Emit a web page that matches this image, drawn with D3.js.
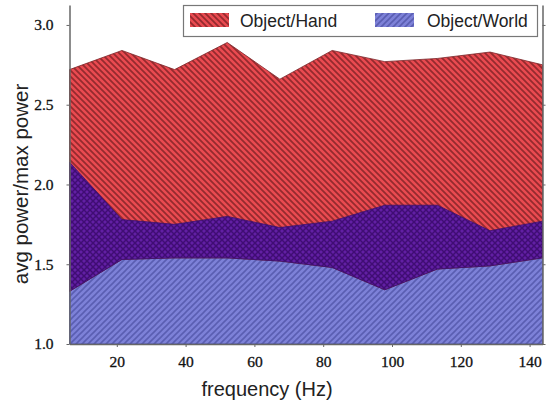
<!DOCTYPE html>
<html><head><meta charset="utf-8">
<script src="https://cdn.jsdelivr.net/npm/d3@7"></script>
<style>body{margin:0;background:#fff}svg{display:block}</style>
</head><body>
<svg id="c" width="546" height="407"></svg>
<script>
const freq = [6.25, 21.5, 36.8, 52.1, 67.4, 82.6, 97.9, 113.2, 128.5, 143.75];
const handHigh = [2.72, 2.84, 2.72, 2.89, 2.66, 2.84, 2.77, 2.79, 2.83, 2.75];
const handLow  = [1.33, 1.53, 1.54, 1.54, 1.52, 1.48, 1.34, 1.47, 1.49, 1.54];
const worldHigh = [2.14, 1.78, 1.75, 1.80, 1.73, 1.77, 1.87, 1.87, 1.71, 1.77];
const xTicks = [20, 40, 60, 80, 100, 120, 140];
const yTicks = [1.0, 1.5, 2.0, 2.5, 3.0];
const seriesNames = ["Object/Hand", "Object/World"];

const svg = d3.select("#c");
const x = d3.scaleLinear().domain([6.25, 143.75]).range([69.5, 542.5]);
const y = d3.scaleLinear().domain([1, 3.125]).range([344, 5]);
const base = y.domain()[0];

const defs = svg.append("defs");
function hatch(id, bg, col, dirs, sw) {
  const p = defs.append("pattern").attr("id", id).attr("patternUnits", "userSpaceOnUse")
    .attr("width", 6).attr("height", 6);
  p.append("rect").attr("width", 6).attr("height", 6).attr("fill", bg);
  const paths = {
    back: "M0,0 L6,6 M-2,4 L2,8 M4,-2 L8,2",
    fwd: "M0,6 L6,0 M-2,2 L2,-2 M4,8 L8,4"
  };
  dirs.forEach(d => p.append("path").attr("d", paths[d]).attr("stroke", col)
    .attr("stroke-width", sw).attr("fill", "none"));
}
hatch("pRed", "#ea4a50", "#952a2e", ["back"], 1.8);
hatch("pBlue", "#7d81d8", "#5a5eb2", ["fwd"], 1.6);
hatch("pPurp", "#621fa4", "#400d74", ["back", "fwd"], 1.5);

const data = freq.map((f, i) => ({f, hh: handHigh[i], hl: handLow[i], wh: worldHigh[i]}));

const g = svg.append("g");
g.append("path").datum(data)
  .attr("d", d3.area().x(d => x(d.f)).y0(y(base)).y1(d => y(d.wh)))
  .attr("fill", "url(#pBlue)").attr("stroke", "#4a4ea0").attr("stroke-width", 0.8);
g.append("path").datum(data)
  .attr("d", d3.area().x(d => x(d.f)).y0(d => y(d.hl)).y1(d => y(d.hh)))
  .attr("fill", "url(#pRed)").attr("stroke", "#7a2226").attr("stroke-width", 0.8);
g.append("path").datum(data)
  .attr("d", d3.area().x(d => x(d.f)).y0(d => y(d.hl)).y1(d => y(Math.min(d.wh, d.hh))))
  .attr("fill", "url(#pPurp)").attr("stroke", "#3a1070").attr("stroke-width", 0.8);

// axes
const axCol = "#666";
const xAxis = svg.append("g").attr("transform", `translate(0,${y(base)})`)
  .call(d3.axisBottom(x).tickValues(xTicks).tickSize(3).tickSizeOuter(0).tickFormat(d3.format("d")));
const yAxis = svg.append("g").attr("transform", `translate(${x.range()[0]},0)`)
  .call(d3.axisLeft(y).tickValues(yTicks).tickSize(3).tickSizeOuter(0).tickFormat(d3.format(".1f")));
const yAxisR = svg.append("g").attr("transform", `translate(${x.range()[1]},0)`)
  .call(d3.axisRight(y).tickValues(yTicks).tickSize(3).tickSizeOuter(0).tickFormat(""));
[xAxis, yAxis, yAxisR].forEach(a => {
  a.select(".domain").attr("stroke", axCol).attr("stroke-width", 1.5);
  a.selectAll(".tick line").attr("stroke", axCol);
  a.selectAll("text").attr("font-family", "'Liberation Serif', 'DejaVu Serif', serif")
    .attr("font-size", 15.5).attr("fill", "#111").attr("stroke", "#111").attr("stroke-width", 0.3);
});
xAxis.selectAll("text").attr("dy", null).attr("y", 23);
yAxis.selectAll("text").attr("x", -16);

// titles
svg.append("text").attr("x", 267).attr("y", 396).attr("text-anchor", "middle")
  .attr("font-family", "'Liberation Sans', Arial, sans-serif").attr("font-size", 20)
  .attr("fill", "#222").text("frequency (Hz)");
svg.append("text").attr("transform", "translate(28,184) rotate(-90)").attr("text-anchor", "middle")
  .attr("font-family", "'Liberation Sans', Arial, sans-serif").attr("font-size", 20.5)
  .attr("fill", "#222").text("avg power/max power");

// legend
const lg = svg.append("g");
lg.append("rect").attr("x", 183.5).attr("y", 5.5).attr("width", 354).attr("height", 31)
  .attr("fill", "#fff").attr("stroke", "#777").attr("stroke-width", 1.2);
const legItems = [
  {name: seriesNames[0], fill: "url(#pRed)", sx: 190, tx: 240},
  {name: seriesNames[1], fill: "url(#pBlue)", sx: 375, tx: 427}
];
legItems.forEach(it => {
  lg.append("rect").attr("x", it.sx).attr("y", 13).attr("width", 39).attr("height", 14)
    .attr("fill", it.fill);
  lg.append("text").attr("x", it.tx).attr("y", 27).attr("font-family", "'Liberation Sans', Arial, sans-serif")
    .attr("font-size", 17.5).attr("fill", "#222").text(it.name);
});
</script>
</body></html>
